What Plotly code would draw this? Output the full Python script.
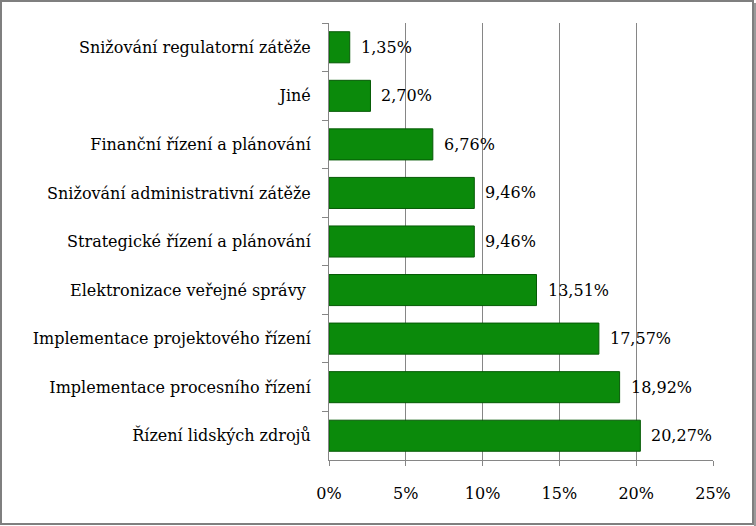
import plotly.graph_objects as go

categories = [
    "Snižování regulatorní zátěže",
    "Jiné",
    "Finanční řízení a plánování",
    "Snižování administrativní zátěže",
    "Strategické řízení a plánování",
    "Elektronizace veřejné správy ",
    "Implementace projektového řízení",
    "Implementace procesního řízení",
    "Řízení lidských zdrojů",
]
values = [1.35, 2.70, 6.76, 9.46, 9.46, 13.51, 17.57, 18.92, 20.27]
value_labels = [f"{v:.2f}".replace(".", ",") + "%" for v in values]
x_ticks = [0, 5, 10, 15, 20, 25]

W, H = 756, 526
L, R, T, B = 329, 43, 23, 66
pw, ph = W - L - R, H - T - B

def px(x):
    return (x - L) / pw

def py(y):
    return (H - B - y) / ph

font = "DejaVu Serif"
fs = 16
green = "#0b8a0b"

fig = go.Figure()
fig.add_trace(go.Bar(
    x=values, y=categories, orientation="h",
    marker=dict(color=green, line=dict(color="#055a05", width=1)),
    hoverinfo="skip",
))

for v, c, t in zip(values, categories, value_labels):
    fig.add_annotation(x=v, y=c, text=t, showarrow=False, xanchor="left",
                       xshift=9, font=dict(family=font, size=fs, color="black"))

grey = "#868686"
fig.update_layout(
    width=W, height=H,
    margin=dict(l=L, r=R, t=T, b=B, autoexpand=False),
    paper_bgcolor="white", plot_bgcolor="white",
    bargap=0.36, showlegend=False,
    font=dict(family=font, size=fs, color="black"),
    xaxis=dict(range=[0, 25], tickvals=x_ticks,
               ticktext=[f"{t}%" for t in x_ticks],
               showgrid=True, gridcolor=grey, gridwidth=1,
               showline=True, linecolor=grey, linewidth=1,
               ticks="outside", ticklen=5, tickcolor=grey,
               zeroline=False, fixedrange=True, automargin=False,
               tickfont=dict(family=font, size=fs, color="black"),
               ticklabelstandoff=14),
    yaxis=dict(autorange="reversed", showline=True, linecolor=grey, linewidth=1,
               ticks="outside", tickson="boundaries", ticklen=6, tickcolor=grey,
               showgrid=False, automargin=False,
               tickfont=dict(family=font, size=fs, color="black"),
               ticklabelstandoff=14),
    shapes=[
        dict(type="rect", xref="paper", yref="paper",
             x0=px(1), x1=px(753), y0=py(1), y1=py(524),
             line=dict(color="#7f7f7f", width=2), fillcolor="rgba(0,0,0,0)", layer="above"),
        dict(type="line", xref="paper", yref="paper",
             x0=px(755), x1=px(755), y0=py(3), y1=py(526),
             line=dict(color="#9a9a9a", width=2)),
    ],
)

fig.write_html("out.html")
